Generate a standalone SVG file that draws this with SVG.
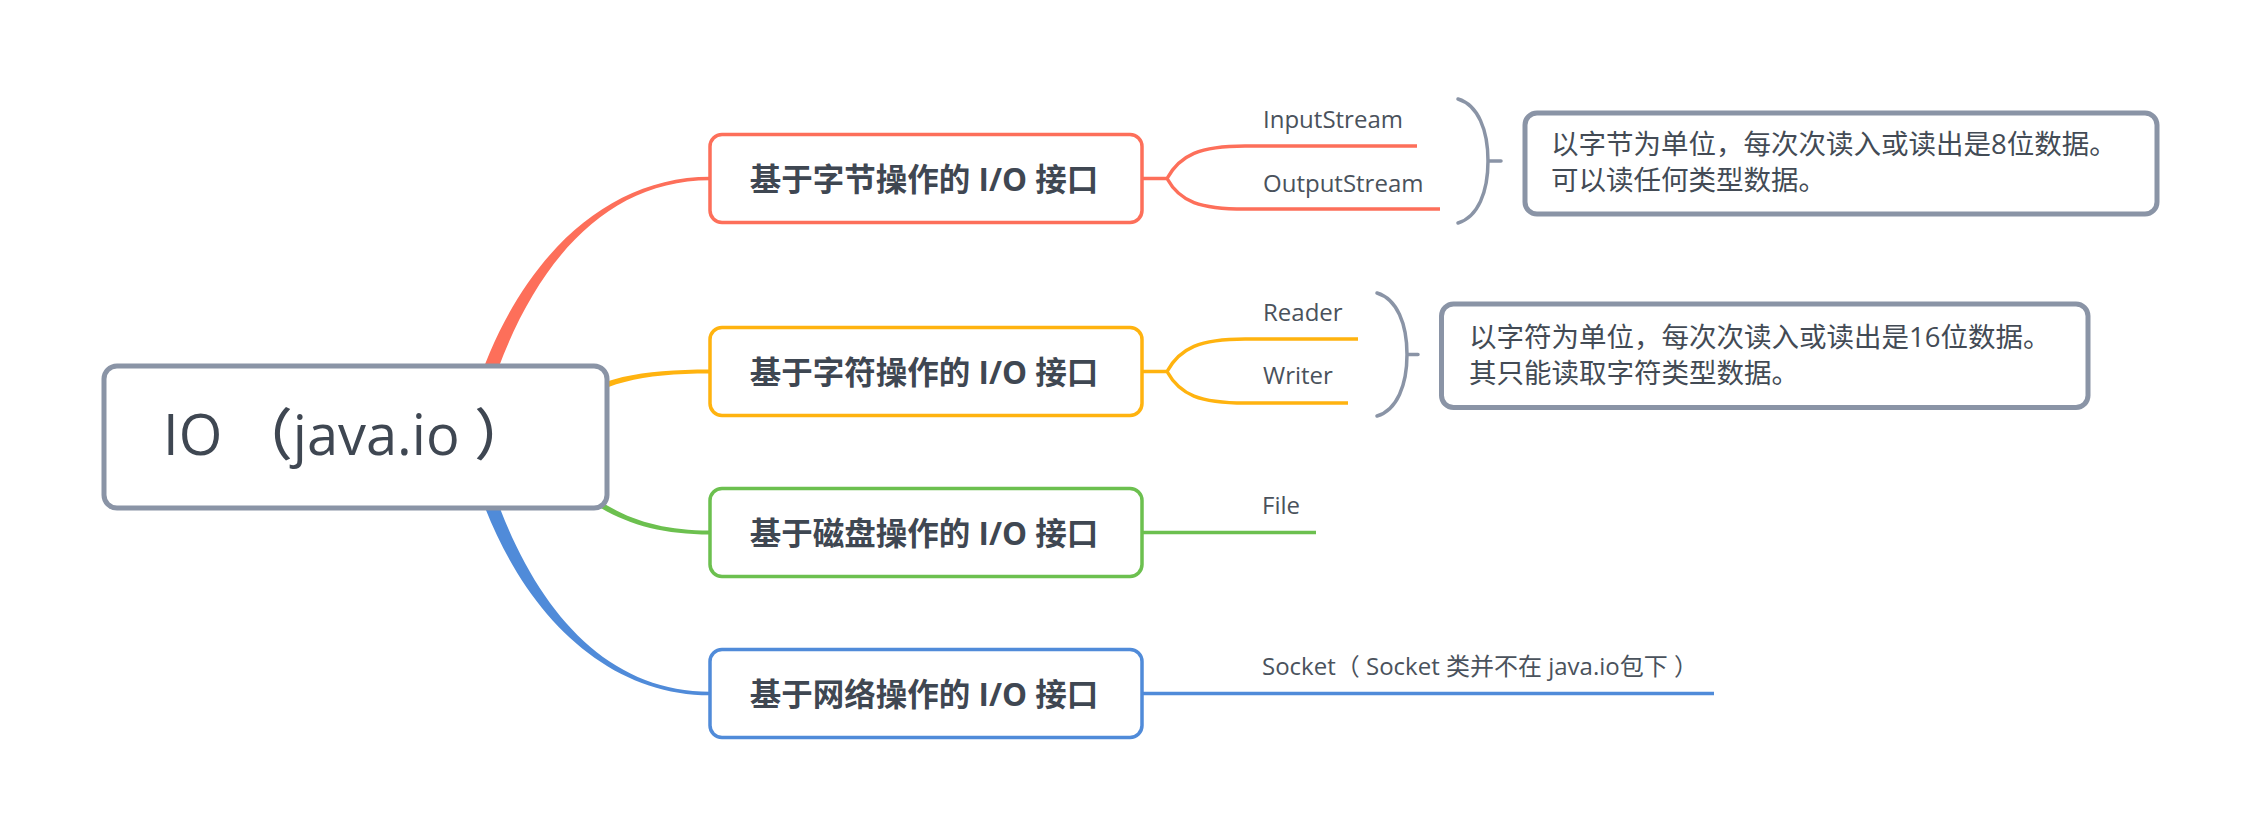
<svg xmlns="http://www.w3.org/2000/svg" width="2258" height="838" viewBox="0 0 2258 838">
<style>
text{font-family:'Open Sans','Noto Sans CJK SC',sans-serif;fill:#3f4752}
.root{font-size:56px;font-weight:500}
.br{font-size:31.5px;font-weight:bold}
.lbl{font-size:24px;fill:#4a525c}
.note{font-size:27.5px;fill:#434b55}
.box{fill:#fff;stroke-width:3.5}
.gray{fill:#fff;stroke:#8a94a6;stroke-width:5}
.ln{fill:none;stroke-width:3.5;stroke-linecap:butt}
.brk{fill:none;stroke:#8a94a6;stroke-width:3.5;stroke-linecap:round}
</style>
<rect width="2258" height="838" fill="#fff"/>
<g id="connectors">
<path d="M473.3 397.9 C513.3 267.9 600 176.75 710 176.75 L710 180.25 C600 180.25 526.7 272.1 486.7 402.1 Z" fill="#fd6f5a"/>
<path d="M557.9 407.2 C597.9 377.2 640 369.5 710 369.5 L710 373.5 C640 373.5 602.1 382.8 562.1 412.8 Z" fill="#ffb30f"/>
<path d="M557.6 462.7 C597.6 507.7 640 530.5 710 530.5 L710 534.5 C640 534.5 592.4 512.3 552.4 467.3 Z" fill="#6cc04f"/>
<path d="M473.3 474.1 C513.3 604.1 600 695.25 710 695.25 L710 691.75 C600 691.75 526.7 599.9 486.7 469.9 Z" fill="#508bd9"/>
<path class="ln" stroke="#fd6f5a" d="M1141 178.5 H1167 C1180 155 1200 146 1245 146 H1417 M1167 178.5 C1180 202 1200 209 1245 209 H1440"/>
<path class="ln" stroke="#ffb30f" d="M1141 371.5 H1167 C1180 348 1200 339 1245 339 H1358 M1167 371.5 C1180 395 1200 403 1245 403 H1348"/>
<path class="ln" stroke="#6cc04f" d="M1141 532.5 H1316"/>
<path class="ln" stroke="#508bd9" d="M1141 693.5 H1714"/>
<path class="brk" d="M1458 99 C1478 105 1488 130 1488 161 C1488 192 1478 217 1458 223 M1488 161 H1501"/>
<path class="brk" d="M1377 293 C1397 299 1407 324 1407 354.5 C1407 385 1397 410 1377 416 M1407 354.5 H1418"/>
</g>
<g id="root">
<rect class="gray" x="104" y="366" width="503" height="142" rx="13"/>
<text class="root" x="163" y="455">IO （java.io ）</text>
</g>
<g id="branch-byte">
<rect class="box" stroke="#fd6f5a" x="710" y="134.5" width="432" height="88" rx="12"/>
<text class="br" x="924" y="190.5" text-anchor="middle">基于字节操作的 I/O 接口</text>
</g>
<g id="branch-char">
<rect class="box" stroke="#ffb30f" x="710" y="327.5" width="432" height="88" rx="12"/>
<text class="br" x="924" y="383.5" text-anchor="middle">基于字符操作的 I/O 接口</text>
</g>
<g id="branch-disk">
<rect class="box" stroke="#6cc04f" x="710" y="488.5" width="432" height="88" rx="12"/>
<text class="br" x="924" y="544.5" text-anchor="middle">基于磁盘操作的 I/O 接口</text>
</g>
<g id="branch-net">
<rect class="box" stroke="#508bd9" x="710" y="649.5" width="432" height="88" rx="12"/>
<text class="br" x="924" y="705.5" text-anchor="middle">基于网络操作的 I/O 接口</text>
</g>
<g id="leaf-inputstream"><text class="lbl" x="1263" y="128">InputStream</text></g>
<g id="leaf-outputstream"><text class="lbl" x="1263" y="192">OutputStream</text></g>
<g id="leaf-reader"><text class="lbl" x="1263" y="321">Reader</text></g>
<g id="leaf-writer"><text class="lbl" x="1263" y="384">Writer</text></g>
<g id="leaf-file"><text class="lbl" x="1262" y="514">File</text></g>
<g id="leaf-socket"><text class="lbl" x="1262" y="675">Socket（ Socket 类并不在 java.io包下 ）</text></g>
<g id="note-byte">
<rect class="gray" x="1525" y="113" width="632" height="101" rx="12"/>
<text class="note" x="1551" y="154">以字节为单位，每次次读入或读出是8位数据。</text>
<text class="note" x="1551" y="190">可以读任何类型数据。</text>
</g>
<g id="note-char">
<rect class="gray" x="1441.5" y="304" width="646.5" height="103.5" rx="12"/>
<text class="note" x="1469" y="347">以字符为单位，每次次读入或读出是16位数据。</text>
<text class="note" x="1469" y="383">其只能读取字符类型数据。</text>
</g>
</svg>
